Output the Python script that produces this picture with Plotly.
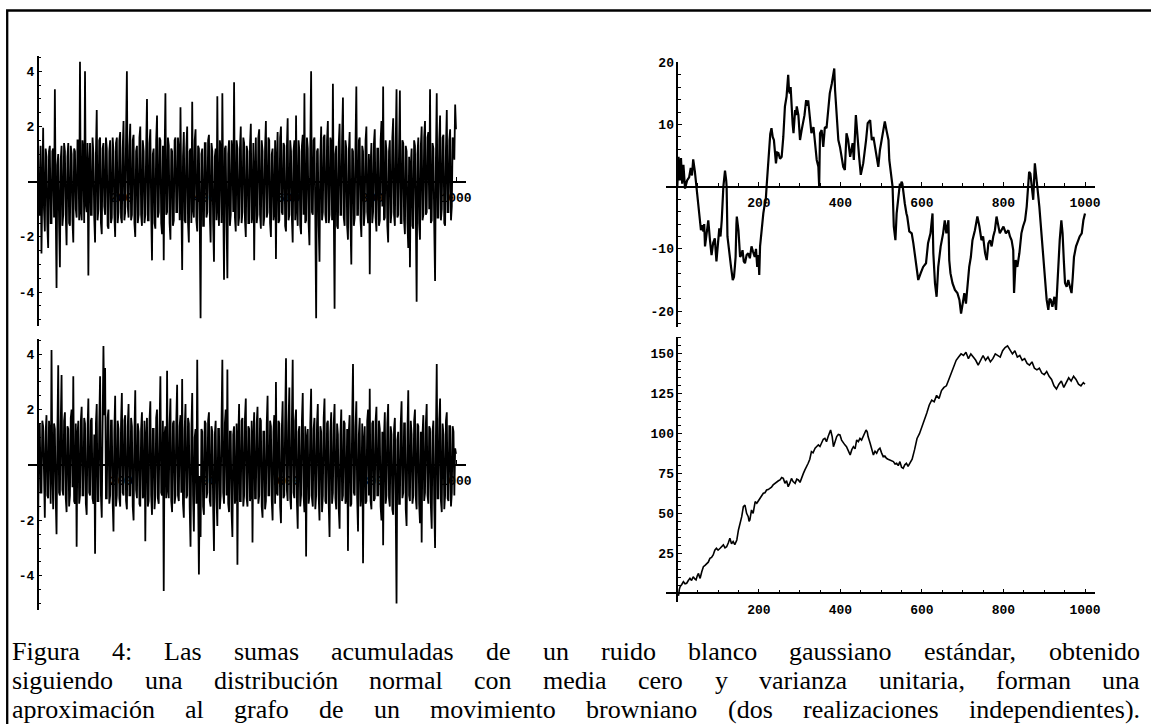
import plotly.graph_objects as go

# ---------------- DATA ----------------
# White noise, top-left panel (500 samples over steps 1..1000)
noise_a = [
    1.5, -1.2, -1.2, 1.3, -2.6, 1.1, 1.95, -1.0, -1.8, 1.2, 0.9, -1.6, -2.4, 1.1, 1.3, -1.5, -1.5, 1.1, 1.2, -1.3, 3.35, -0.9, -3.85, 0.6, 1.0, -1.4, -3.1, 0.8, 1.3, -1.6, -1.2, 1.4, 1.1, -1.2, -2.3, 0.9, 1.4, -1.5, -1.6, 1.3, 1.0, -1.4, -2.2, 1.2, 1.1, -1.0, -1.3, 1.5, 1.5, -1.4,
    4.35, -1.1, -1.4, 1.5, 1.1, -1.5, 4.0, -0.8, -1.1, 1.4, -3.4, 0.6, 1.4, -1.2, -1.2, 1.6, 1.0, -1.3, -2.2, 1.0, 2.6, -1.4, -1.0, 1.5, 1.6, -1.5, -1.9, 1.2, 1.4, -0.9, -1.2, 1.6, 1.2, -1.6, -1.7, 1.1, 1.5, -1.5, -1.3, 1.6, 1.1, -1.2, -2.0, 1.4, 1.6, -1.5, -1.1, 1.5, 1.8, -1.3,
    -1.5, 1.2, 2.2, -1.4, -1.1, 1.6, 4.0, -0.9, -1.3, 1.3, 2.1, -1.4, -1.2, 1.5, 1.7, -1.5, -2.0, 1.1, 1.3, -1.5, -1.2, 1.6, 2.0, -1.2, -1.6, 1.5, 1.1, -1.5, -1.2, 1.2, 3.0, -1.4, -1.4, 1.4, 1.9, -1.1, -2.85, 1.0, 1.2, -1.5, -1.7, 1.5, 2.4, -1.3, -1.1, 1.6, 1.5, -1.5, -1.9, 1.3,
    -2.85, 0.9, 3.2, -1.2, -1.1, 1.6, 1.3, -1.5, -2.1, 1.2, 1.1, -1.6, -1.4, 1.5, 1.6, -1.1, -1.1, 1.6, 1.1, -1.4, 2.7, -0.6, -3.2, 0.9, 1.8, -1.4, -1.5, 1.2, 2.0, -1.5, -2.2, 1.1, 1.2, -1.5, 2.9, -1.0, -1.3, 1.5, 1.9, -1.4, -1.8, 1.3, 1.2, -1.4, -4.95, 1.0, 1.2, -1.6, -1.6, 1.4,
    1.4, -1.3, -1.1, 1.5, 1.7, -1.2, -2.2, 1.4, 1.1, -1.5, -2.9, 0.9, 1.2, -1.4, 3.1, -1.0, -1.6, 1.5, 1.2, -1.5, 3.2, -0.5, -3.55, 1.2, 1.3, -1.5, -3.5, 1.0, 1.5, -1.6, -1.2, 1.5, 1.1, -1.1, 3.6, -1.3, -1.8, 1.5, 1.2, -1.6, -1.3, 1.2, 2.0, -1.5, -1.1, 1.6, 1.4, -1.4, -2.0, 1.3,
    1.1, -1.5, -1.5, 1.3, 2.1, -1.5, -1.2, 1.4, -2.85, 0.3, 1.6, -1.5, -1.2, 1.6, 1.9, -1.2, -1.7, 1.5, 1.1, -1.6, -1.3, 1.2, 2.2, -1.3, -1.1, 1.6, 1.5, -1.5, -2.0, 1.0, 1.2, -1.4, -1.1, 1.5, -2.8, 0.8, 1.8, -1.5, -1.4, 1.6, 2.0, -1.1, -1.2, 1.4, 1.3, -1.6, -1.8, 1.2, 2.3, -1.4,
    -1.2, 1.5, 1.1, -1.3, -2.2, 1.1, 1.5, -1.4, 2.4, -1.0, -1.6, 1.5, 1.1, -1.6, -1.9, 1.3, 1.7, -1.2, 3.2, -1.5, -1.4, 1.6, 1.2, -1.5, -2.3, 1.2, 4.0, -1.1, -1.2, 1.5, 1.6, -1.3, -4.95, 1.1, 1.2, -1.6, -2.9, 0.9, 2.0, -1.4, -1.1, 1.6, 1.7, -1.2, -1.5, 1.5, 2.2, -1.5, -1.2, 1.6,
    1.4, -1.4, 3.55, -0.8, -4.6, 1.0, 1.3, -1.6, -1.7, 1.4, 2.1, -1.2, -1.2, 1.6, 3.05, -1.3, -1.6, 1.5, 1.2, -1.6, -2.1, 1.1, 1.8, -1.5, -3.0, 1.2, 1.1, -1.6, -1.3, 1.4, 3.45, -1.2, -1.2, 1.5, 1.6, -1.4, -2.0, 1.3, 1.1, -1.6, -1.1, 1.5, 2.0, -1.1, -1.5, 1.0, -3.35, 0.6, 1.4, -1.5,
    -1.1, 1.4, 1.9, -1.3, -1.8, 1.2, 1.2, -1.6, -1.4, 1.5, 2.2, -0.9, 3.45, -1.4, -1.3, 1.5, 1.1, -1.6, -2.2, 1.1, 1.5, -1.5, -1.1, 1.6, 2.3, -1.2, -1.6, 1.4, 3.35, -1.3, -1.2, 1.2, 3.3, -1.5, -1.5, 1.5, 1.4, -1.4, -1.9, 1.3, 1.1, -1.5, -2.4, 0.9, -3.1, 0.6, 1.2, -1.6, -1.7, 1.5,
    1.3, -1.1, -4.35, 1.0, 1.6, -1.5, -2.1, 1.3, 2.0, -1.4, -1.2, 1.6, 2.2, -1.2, -1.1, 1.6, 1.8, -1.0, 3.35, -1.5, -1.4, 1.4, 1.2, -1.6, -3.6, 0.8, 3.2, -1.3, -1.3, 1.5, 2.4, -1.4, -1.0, 1.6, 1.7, -1.5, -1.6, 1.2, 2.6, -1.1, -1.1, 1.5, 1.9, -1.4, -0.9, 1.6, 1.5, 0.8, 2.8, 1.9,
]

# White noise, bottom-left panel (500 samples over steps 1..1000)
noise_b = [
    -2.3, 1.4, 1.5, -1.0, -1.0, 1.6, 1.4, -1.3, -1.9, 1.2, 1.8, -1.1, -1.2, 1.6, 1.1, -1.4, 4.15, -0.3, -1.6, 1.5, 1.3, -1.2, -2.5, 1.1, 3.6, -1.0, -1.1, 1.5, 3.25, -0.9, -1.1, 1.6, 1.9, -1.2, -1.7, 1.4, 1.3, -1.5, -1.1, 1.7, 2.0, -0.8, 3.2, -1.3, -1.4, 1.5, -2.95, 1.1, 1.6, -1.4,
    -1.1, 1.6, 2.1, -1.1, -1.1, 1.7, 1.5, -1.4, -1.8, 1.3, 2.4, -1.0, -1.1, 1.6, 1.7, -1.2, -1.4, 1.1, -3.2, 1.5, 2.2, -1.3, -1.3, 1.5, 3.2, -1.1, -1.9, 1.4, 4.3, 1.8, 3.5, -1.2, -1.2, 1.7, 2.0, -1.4, -1.1, 1.6, 1.6, -1.3, -2.4, 1.2, 2.5, -1.5, -1.1, 1.6, 1.3, -1.2, -1.5, 1.5,
    2.6, -1.0, -1.1, 1.6, 1.8, -1.3, -1.6, 1.4, 2.2, -1.1, -1.1, 1.7, 1.4, -1.5, -2.0, 1.2, 2.7, -0.9, -1.2, 1.5, 1.2, -1.4, -1.5, 1.3, 1.9, -1.2, -1.1, 1.6, -2.75, 1.0, 1.7, -1.5, -1.3, 1.6, 2.3, -1.1, -1.8, 1.3, 1.3, -1.6, -1.1, 1.7, 2.0, -1.2, -1.4, 1.4, 3.2, -1.0, -1.1, 1.6,
    -4.55, 1.1, 1.4, -1.2, 3.4, -0.9, -1.2, 1.5, 2.4, -1.3, -1.7, 1.5, 1.6, -1.4, -1.1, 1.6, 2.9, -1.1, -1.3, 1.4, 1.8, -1.0, 3.1, -1.4, -1.9, 1.3, 2.2, -1.2, -1.1, 1.7, 1.5, -1.5, -2.95, 1.2, 2.6, -1.1, -2.4, 1.0, 1.3, -1.4, 3.8, -0.9, -3.95, -0.4, -2.6, 1.3, 1.2, -1.5, -1.8, 1.6,
    1.5, -1.2, -1.0, 1.6, 1.9, -1.3, -1.5, 1.4, 1.2, -1.5, -3.1, 1.1, 1.6, -1.2, -2.2, 1.3, 1.3, -1.6, -1.1, 1.5, 3.8, -1.0, -1.4, 1.5, 2.0, -1.1, 3.45, -1.4, -1.7, 1.2, 1.2, -1.7, -2.6, 1.1, 1.4, -1.4, -1.1, 1.5, -3.6, 0.9, 2.2, -1.3, -1.3, 1.6, 1.7, -1.5, -1.1, 1.7, 2.4, -1.2,
    -1.5, 1.4, 1.3, -1.3, -1.1, 1.6, -2.8, 1.0, 1.9, -1.2, -1.2, 1.5, 2.1, -1.4, -1.1, 1.7, 1.6, -1.5, -1.9, 1.2, 1.2, -1.6, -1.3, 1.5, 2.5, -1.1, -1.1, 1.6, 1.4, -1.3, -2.0, 1.2, 1.8, -1.4, 3.0, -1.0, -1.1, 1.6, 1.5, -1.5, -2.1, 1.3, 2.3, -1.2, -1.1, 1.6, 3.85, -0.9, -1.3, 1.5,
    2.8, -1.2, -1.6, 1.5, 3.8, -1.0, -1.2, 1.6, 2.0, -1.3, -2.3, 1.2, 1.4, -1.5, -1.1, 1.6, 2.6, -1.1, -1.7, 1.4, -3.3, 1.0, 1.3, -1.4, -1.1, 1.5, 2.75, -1.2, -1.5, 1.3, 1.7, -1.6, -1.1, 1.5, 2.2, -1.1, -2.0, 1.4, 1.2, -1.7, -1.1, 1.7, 2.4, -1.3, -1.4, 1.5, 1.6, -1.4, -2.6, 1.2,
    1.9, -1.4, -1.0, 1.5, 2.2, -1.2, -1.6, 1.5, 1.1, -1.6, -2.3, 1.1, 2.0, -1.3, -1.1, 1.6, 1.5, -1.4, -1.2, 1.3, -3.1, 1.2, 1.8, -1.5, -1.4, 1.6, 3.65, -1.0, -1.1, 1.4, 2.3, -1.2, -2.4, 1.1, 1.7, -1.5, -1.0, 1.5, -3.55, 0.9, 1.4, -1.4, -1.3, 1.6, 2.0, -1.1, 2.75, -1.3, -1.6, 1.5,
    1.6, -1.3, -1.2, 1.6, 2.1, -1.1, -1.1, 1.6, 1.3, -1.5, -2.0, 1.2, -2.9, 1.0, 1.9, -1.4, -1.1, 1.5, 2.2, -1.2, -1.5, 1.4, 1.1, -1.6, -1.8, 1.3, 1.7, -1.5, -5.0, 0.9, 1.2, -1.4, -1.4, 1.5, 2.3, -1.2, -1.0, 1.5, 1.5, -1.6, -2.2, 1.2, 2.7, -1.1, -1.3, 1.6, 1.1, -1.4, -1.1, 1.6,
    2.0, -1.2, -1.6, 1.5, 1.4, -1.4, -2.1, 1.2, -2.8, 1.1, 1.8, -1.3, -1.0, 1.5, 2.2, -1.1, -1.4, 1.4, 1.3, -1.5, -2.3, 1.2, 1.6, -1.4, -3.0, 1.0, 3.65, -1.2, -1.2, 1.6, 2.4, -1.3, -1.7, 1.5, 1.1, -1.6, -1.1, 1.6, 1.9, -1.2, -1.3, 1.4, 1.4, -1.5, -1.0, 1.4, 1.2, -1.1, 0.6, 0.4,
]

# Brownian path, top-right panel (step, value)
walk_a_steps = [
    0, 3, 6, 9, 12, 15, 19, 24, 29, 33, 36, 39, 43, 47, 51, 55, 58, 61, 64, 66, 68, 72, 76, 80, 84, 88, 92, 96, 100, 103,
    106, 109, 113, 117, 120, 121, 123, 126, 129, 132, 136, 139, 141, 143, 145, 146, 150, 152, 154, 157, 160, 163, 166, 170, 174, 178, 182, 186, 190, 193,
    196, 199, 201, 203, 207, 211, 214, 217, 219, 222, 225, 228, 231, 234, 237, 240, 242, 245, 248, 252, 256, 260, 264, 268, 272, 274, 276, 278, 280, 283,
    285, 287, 289, 291, 293, 297, 301, 305, 309, 312, 316, 319, 321, 325, 329, 334, 338, 342, 346, 348, 350, 354, 358, 362, 366, 370, 374, 379, 383, 385,
    387, 391, 395, 399, 403, 407, 411, 415, 419, 424, 430, 433, 438, 442, 446, 450, 456, 463, 467, 473, 477, 481, 485, 489, 493, 497, 501, 505, 509, 513,
    518, 520, 524, 528, 531, 535, 538, 542, 546, 548, 550, 552, 556, 558, 562, 564, 569, 575, 579, 585, 591, 597, 603, 610, 615, 621, 626, 628, 632, 636,
    640, 646, 652, 656, 660, 665, 667, 670, 675, 681, 687, 692, 696, 700, 704, 708, 712, 716, 720, 724, 730, 736, 741, 746, 750, 755, 759, 763, 767, 771,
    775, 779, 783, 787, 791, 795, 800, 806, 812, 816, 820, 824, 826, 830, 834, 839, 844, 848, 853, 857, 861, 863, 866, 870, 873, 877, 879, 883, 888, 893,
    897, 902, 906, 910, 913, 916, 920, 925, 929, 932, 935, 938, 942, 945, 948, 951, 955, 959, 963, 967, 970, 973, 978, 983, 987, 992, 996, 1000,
]
walk_a_vals = [
    0, 4.8, 1.0, 4.6, 0.5, 3.5, -0.3, 1.0, 1.5, 3.0, 1.8, 4.4, 2.5, 0, -3.0, -6.0, -7.0, -6.2, -7.2, -6.0, -9.6, -7.5, -5.4, -8.5, -11.0, -9.0, -8.3, -12.0, -9.5, -6.7,
    -8.0, -5.4, 0, 2.6, 1.0, 0, -8.0, -10.0, -11.5, -13.0, -15.0, -14.5, -13.0, -11.3, -6.0, -4.8, -7.0, -10.0, -11.3, -11.0, -10.2, -12.0, -12.3, -11.0, -10.7, -11.5, -9.6, -10.5, -11.3, -10.0,
    -12.9, -11.0, -14.2, -9.6, -6.4, -4.3, -3.0, -2.1, 0, 2.7, 7.0, 8.5, 9.4, 8.0, 7.5, 5.0, 3.75, 5.5, 5.4, 4.5, 4.8, 8.0, 12.9, 14.5, 18.0, 15.5, 15.0, 16.0, 12.9, 10.0,
    8.6, 11.0, 12.3, 11.5, 12.9, 11.5, 7.5, 9.1, 10.2, 11.5, 13.9, 13.0, 13.9, 11.3, 8.6, 9.6, 6.4, 4.3, 3.2, 0, 8.6, 9.1, 6.4, 9.6, 9.4, 11.8, 15.0, 16.6, 18.2, 19.0,
    15.5, 10.7, 7.5, 6.4, 4.8, 3.2, 2.7, 8.6, 7.5, 4.8, 7.0, 4.3, 11.5, 7.5, 4.8, 1.9, 3.75, 7.5, 10.2, 10.7, 7.5, 8.0, 6.4, 5.4, 3.2, 5.9, 7.5, 9.6, 10.5, 9.1,
    7.5, 4.3, 2.1, 0, -6.4, -8.6, -4.3, -2.1, 0.5, 0, 0.8, 0.5, -2.1, -2.7, -4.3, -4.8, -7.2, -7.5, -9.1, -11.8, -15.0, -13.9, -12.9, -12.3, -9.1, -7.5, -4.3, -10.7, -15.5, -17.7,
    -12.9, -9.6, -7.5, -5.4, -7.5, -5.4, -11.8, -13.9, -15.5, -16.6, -17.1, -18.2, -20.4, -18.8, -17.1, -18.8, -15.5, -12.9, -11.3, -8.6, -7.0, -4.8, -6.4, -8.6, -8.0, -10.7, -11.8, -9.1, -8.6, -9.6,
    -8.0, -7.0, -4.8, -6.4, -7.5, -7.0, -6.4, -7.5, -7.0, -8.0, -8.6, -10.2, -17.1, -11.8, -12.9, -10.7, -7.5, -6.4, -5.4, -3.2, 0.5, 2.4, 2.1, -1.1, -2.1, 3.75, 2.1, 0, -3.2, -7.5,
    -11.8, -15.5, -18.2, -19.8, -18.0, -18.2, -19.3, -17.7, -19.8, -16.1, -11.8, -8.6, -5.4, -7.5, -11.8, -15.5, -16.1, -15.0, -16.1, -17.1, -14.5, -11.3, -9.6, -8.6, -8.0, -7.5, -5.4, -4.3,
]

# Brownian path, bottom-right panel (step, value)
walk_b_steps = [
    0, 3, 5, 7, 11, 15, 19, 23, 27, 31, 35, 39, 43, 46, 49, 52, 54, 56, 60, 64, 68, 72, 76, 80, 84, 88, 92, 96, 100, 105,
    109, 113, 117, 121, 125, 129, 133, 137, 141, 146, 150, 154, 158, 162, 166, 170, 174, 176, 178, 182, 186, 191, 195, 199, 203, 207, 211, 215, 219, 223,
    227, 231, 235, 240, 244, 248, 252, 256, 260, 264, 268, 272, 276, 280, 284, 289, 293, 297, 301, 305, 309, 313, 317, 321, 325, 329, 333, 338, 342, 346,
    350, 354, 358, 362, 366, 370, 373, 376, 380, 383, 387, 391, 395, 399, 403, 407, 411, 415, 420, 424, 428, 432, 436, 440, 444, 448, 452, 456, 460, 463,
    466, 468, 473, 477, 481, 485, 489, 493, 497, 501, 505, 509, 513, 517, 522, 526, 530, 534, 538, 542, 546, 550, 554, 558, 562, 566, 571, 576, 582, 588,
    594, 600, 606, 612, 618, 624, 630, 636, 642, 648, 654, 660, 666, 672, 678, 684, 690, 696, 702, 708, 714, 720, 726, 732, 738, 744, 750, 756, 762, 768,
    774, 780, 786, 792, 798, 804, 810, 816, 822, 828, 834, 840, 846, 852, 858, 864, 870, 876, 882, 888, 894, 900, 906, 912, 918, 924, 930, 936, 942, 948,
    954, 960, 966, 972, 978, 984, 990, 996, 1000,
]
walk_b_vals = [
    0, -1.5, 2.5, 4.2, 5.5, 7.3, 6.0, 6.3, 8.0, 9.4, 8.0, 10.4, 9.0, 8.4, 11.0, 12.5, 10.5, 9.4, 13.5, 16.7, 17.5, 18.8, 19.5, 21.9, 22.5, 24.0, 27.0, 28.2, 27.0, 28.2,
    29.5, 30.3, 28.5, 29.2, 31.5, 34.5, 31.0, 32.4, 30.5, 33.4, 39.7, 43.9, 48.0, 54.3, 55.3, 50.1, 48.0, 45.0, 45.9, 52.2, 50.1, 57.4, 56.4, 58.0, 59.5, 61.0, 62.7, 63.0, 64.7, 65.0,
    65.8, 66.5, 67.9, 69.0, 70.0, 70.5, 71.0, 72.5, 72.0, 68.9, 70.5, 66.8, 69.0, 72.0, 70.0, 68.9, 71.5, 71.0, 69.5, 73.1, 75.0, 77.3, 79.0, 81.5, 84.0, 88.8, 88.0, 90.9, 92.0, 93.0,
    92.0, 94.0, 96.5, 97.1, 95.0, 98.2, 100.0, 102.3, 98.0, 91.9, 95.0, 98.2, 99.5, 99.2, 96.0, 94.0, 93.0, 91.9, 89.0, 86.7, 90.0, 91.9, 90.5, 96.1, 95.0, 97.1, 96.0, 98.2, 100.0, 102.3,
    101.0, 98.2, 94.0, 90.0, 86.7, 89.0, 87.7, 90.0, 90.9, 88.0, 85.6, 86.0, 84.6, 84.0, 83.5, 83.0, 82.5, 81.0, 81.5, 80.0, 82.5, 79.0, 78.3, 80.5, 81.5, 79.5, 81.5, 84.0, 90.0, 97.0,
    100.0, 104.0, 108.0, 113.0, 118.0, 121.0, 120.0, 124.0, 122.0, 127.0, 129.0, 130.0, 134.0, 138.0, 142.0, 146.0, 148.0, 150.0, 149.0, 151.0, 147.0, 150.0, 148.0, 146.0, 143.0, 146.0, 149.0, 146.0, 148.0, 145.0,
    147.0, 150.0, 149.0, 148.0, 152.0, 154.0, 155.0, 152.0, 150.0, 152.0, 148.0, 149.0, 146.0, 147.0, 144.0, 143.0, 145.0, 141.0, 140.0, 141.0, 138.0, 137.0, 139.0, 136.0, 134.0, 130.0, 128.0, 131.0, 133.0, 129.0,
    132.0, 135.0, 133.0, 136.0, 134.0, 131.0, 130.0, 132.0, 131.0,
]

x_tick_vals = [200, 400, 600, 800, 1000]
x_tick_text = ["200", "400", "600", "800", "1000"]
noise_tick_vals = [-4, -2, 2, 4]
noise_tick_text = ["-4", "-2", "2", "4"]
walk_a_tick_vals = [-20, -10, 10, 20]
walk_a_tick_text = ["-20", "-10", "10", "20"]
walk_b_tick_vals = [25, 50, 75, 100, 125, 150]
walk_b_tick_text = ["25", "50", "75", "100", "125", "150"]

caption_lines = [
    "Figura 4: Las sumas acumuladas de un ruido blanco gaussiano estándar, obtenido",
    "siguiendo una distribución normal con media cero y varianza unitaria, forman una",
    "aproximación al grafo de un movimiento browniano (dos realizaciones independientes).",
]

# ---------------- LAYOUT HELPERS ----------------
W, H = 1151, 724


def pxx(x):
    return x / W


def pyy(y):
    return 1 - y / H


TICKFONT = dict(family="Liberation Mono", size=13, color="black", weight="bold")

# panel geometry in page pixels: domain edges, pixel of x=0 / x=1000, pixel of y=0 and px per unit
panels = [
    dict(name="1", xdom=(28, 465.7), x0=37.7, x1000=456.0, ydom=(56, 326), y0=181.7, yunit=27.6,
         ytv=noise_tick_vals, ytt=noise_tick_text, yminor=0.5),
    dict(name="2", xdom=(28, 465.7), x0=37.7, x1000=456.0, ydom=(339.3, 610), y0=465.0, yunit=27.7,
         ytv=noise_tick_vals, ytt=noise_tick_text, yminor=0.5),
    dict(name="3", xdom=(666, 1095), x0=677.3, x1000=1085.0, ydom=(61.5, 326.7), y0=186.7, yunit=6.22,
         ytv=walk_a_tick_vals, ytt=walk_a_tick_text, yminor=2),
    dict(name="4", xdom=(666, 1095), x0=677.3, x1000=1085.0, ydom=(336.7, 601.7), y0=593.3, yunit=1.596,
         ytv=walk_b_tick_vals, ytt=walk_b_tick_text, yminor=5),
]

fig = go.Figure()

n_a = len(noise_a)
t_a = [1 + i * 999 / (n_a - 1) for i in range(n_a)]
n_b = len(noise_b)
t_b = [1 + i * 999 / (n_b - 1) for i in range(n_b)]

series = [
    (t_a, noise_a, "x", "y", 1.8),
    (t_b, noise_b, "x2", "y2", 1.8),
    (walk_a_steps, walk_a_vals, "x3", "y3", 2.2),
    (walk_b_steps, walk_b_vals, "x4", "y4", 1.6),
]
for xs, ys, xa, ya, lw in series:
    fig.add_trace(go.Scatter(x=xs, y=ys, mode="lines", xaxis=xa, yaxis=ya,
                             line=dict(color="black", width=lw), hoverinfo="skip", showlegend=False))

layout = dict(
    width=W, height=H, margin=dict(l=0, r=0, t=0, b=0, pad=0, autoexpand=False),
    paper_bgcolor="white", plot_bgcolor="rgba(0,0,0,0)", showlegend=False,
)

for p in panels:
    sx = (p["x1000"] - p["x0"]) / 1000.0
    xr = [(p["xdom"][0] - p["x0"]) / sx, (p["xdom"][1] - p["x0"]) / sx]
    yr = [(p["y0"] - p["ydom"][1]) / p["yunit"], (p["y0"] - p["ydom"][0]) / p["yunit"]]
    xkey = "xaxis" if p["name"] == "1" else "xaxis" + p["name"]
    ykey = "yaxis" if p["name"] == "1" else "yaxis" + p["name"]
    layout[xkey] = dict(
        domain=[pxx(p["xdom"][0]), pxx(p["xdom"][1])], range=xr, anchor="free",
        position=pyy(p["y0"]), showline=True, linecolor="black", linewidth=1.5,
        showgrid=False, zeroline=False, ticks="inside", ticklen=4, tickwidth=1.2, tickcolor="black",
        tickvals=x_tick_vals, ticktext=x_tick_text, tickfont=TICKFONT, layer="below traces",
        ticklabelstandoff=4, automargin=False,
        minor=dict(dtick=50, tick0=0, ticks="inside", ticklen=3, tickwidth=1, tickcolor="black", showgrid=False),
        fixedrange=True,
    )
    layout[ykey] = dict(
        domain=[pyy(p["ydom"][1]), pyy(p["ydom"][0])], range=yr, anchor="free",
        position=pxx(p["x0"]), showline=True, linecolor="black", linewidth=1.5,
        showgrid=False, zeroline=False, ticks="inside", ticklen=4, tickwidth=1.2, tickcolor="black",
        tickvals=p["ytv"], ticktext=p["ytt"], tickfont=TICKFONT, layer="below traces", automargin=False,
        minor=dict(dtick=p["yminor"], tick0=0, ticks="inside", ticklen=2.5, tickwidth=1, tickcolor="black", showgrid=False),
        fixedrange=True,
    )

fig.update_layout(**layout)

# border of the figure box
fig.add_shape(type="rect", xref="paper", yref="paper", x0=pxx(7.2), y0=-0.05, x1=1.05, y1=pyy(10.5),
              line=dict(color="black", width=2.3), fillcolor="rgba(0,0,0,0)", layer="above")

# ---------------- CAPTION (justified word by word, Times metrics) ----------------
TIMES_W = {
    " ": 250, "a": 444, "b": 500, "c": 444, "d": 500, "e": 444, "f": 333, "g": 500, "h": 500, "i": 278,
    "j": 278, "k": 500, "l": 278, "m": 778, "n": 500, "o": 500, "p": 500, "q": 500, "r": 333, "s": 389,
    "t": 278, "u": 500, "v": 500, "w": 722, "x": 500, "y": 500, "z": 444, "F": 556, "L": 611,
    "4": 500, ":": 278, ",": 250, ".": 250, "(": 333, ")": 333, "á": 444, "é": 444, "ó": 500, "í": 278,
}
CAP_SIZE = 26
CAP_LEFT, CAP_RIGHT = 12, 1140
baselines = [660.0, 689.0, 718.0]


def word_width(w):
    return sum(TIMES_W.get(ch, 500) for ch in w) * CAP_SIZE / 1000.0


for line, base in zip(caption_lines, baselines):
    words = line.split(" ")
    widths = [word_width(w) for w in words]
    gap = (CAP_RIGHT - CAP_LEFT - sum(widths)) / (len(words) - 1)
    xcur = CAP_LEFT
    for w, wd in zip(words, widths):
        fig.add_annotation(
            x=pxx(xcur - 1), y=pyy(base - 0.33 * CAP_SIZE), xref="paper", yref="paper",
            xanchor="left", yanchor="middle", text=w, showarrow=False,
            font=dict(family="Liberation Serif", size=CAP_SIZE, color="black"), borderpad=0,
        )
        xcur += wd + gap

fig.write_html("out.html")
